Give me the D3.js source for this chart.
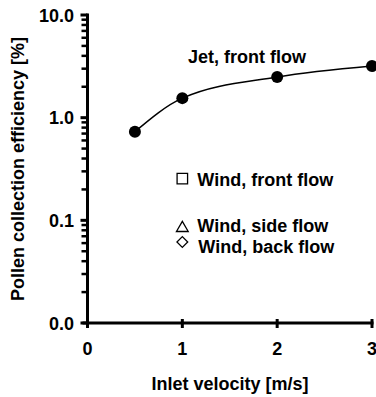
<!DOCTYPE html>
<html>
<head>
<meta charset="utf-8">
<script src="https://cdn.jsdelivr.net/npm/d3@7"></script>
<style>
  body { margin: 0; background: #fff; }
  svg text { font-family: "Liberation Sans", Arial, sans-serif; font-weight: bold; fill: #000; }
</style>
</head>
<body>
<div class="plot"></div>
<script>
// jet data (filled circles + fitted line)
var jetX = [0.5, 1, 2, 3];
var jetY = [0.73, 1.55, 2.49, 3.19];

// wind data, all at 1 m/s
var windNames = ["Wind, front flow", "Wind, side flow", "Wind, back flow"];
var windX = [1, 1, 1];
var windY = [0.255, 0.084, 0.0615];
var windShape = ["square", "triangle", "diamond"];

var xTicks = [0, 1, 2, 3];
var yTicks = [0.01, 0.1, 1, 10];
var yTickLabels = ["0.0", "0.1", "1.0", "10.0"];

var W = 376, H = 397;
var svg = d3.select(".plot").append("svg")
  .attr("width", W)
  .attr("height", H);

var x = d3.scaleLinear().domain([0, 3]).range([87.5, 372]);
var y = d3.scaleLog().domain([0.01, 10]).range([323, 15]);

// y axis
var yAxis = svg.append("g");
yAxis.append("line")
  .attr("x1", x(0)).attr("x2", x(0))
  .attr("y1", y(10) - 1.5).attr("y2", y(0.01) + 5)
  .attr("stroke", "#000").attr("stroke-width", 3);

var minor = [];
[0.01, 0.1, 1].forEach(function(d) {
  for (var k = 2; k <= 9; k++) minor.push(d * k);
});
yAxis.selectAll(".minor").data(minor).enter().append("line")
  .attr("x1", x(0) - 6).attr("x2", x(0))
  .attr("y1", function(d) { return y(d); })
  .attr("y2", function(d) { return y(d); })
  .attr("stroke", "#000").attr("stroke-width", 2.5);
yAxis.selectAll(".major").data(yTicks).enter().append("line")
  .attr("x1", x(0) - 7).attr("x2", x(0))
  .attr("y1", function(d) { return y(d); })
  .attr("y2", function(d) { return y(d); })
  .attr("stroke", "#000").attr("stroke-width", 3);
yAxis.selectAll("text").data(yTicks).enter().append("text")
  .attr("x", 74)
  .attr("y", function(d) { return y(d) + 6.5; })
  .attr("text-anchor", "end")
  .style("font-size", "18px")
  .text(function(d, i) { return yTickLabels[i]; });

// x axis
var xAxis = svg.append("g");
xAxis.append("line")
  .attr("x1", x(0) - 5).attr("x2", x(3) + 1.5)
  .attr("y1", y(0.01)).attr("y2", y(0.01))
  .attr("stroke", "#000").attr("stroke-width", 3);
xAxis.selectAll(".tk").data(xTicks).enter().append("line")
  .attr("x1", function(d) { return x(d); })
  .attr("x2", function(d) { return x(d); })
  .attr("y1", y(0.01) - 4).attr("y2", y(0.01) + 5)
  .attr("stroke", "#000").attr("stroke-width", 3);
xAxis.selectAll("text").data(xTicks).enter().append("text")
  .attr("x", function(d) { return x(d); })
  .attr("y", 355)
  .attr("text-anchor", "middle")
  .style("font-size", "18px")
  .text(function(d) { return d; });

// axis titles
svg.append("text")
  .attr("x", 230).attr("y", 390)
  .attr("text-anchor", "middle")
  .style("font-size", "18px")
  .text("Inlet velocity [m/s]");
svg.append("text")
  .attr("transform", "translate(24,169) rotate(-90)")
  .attr("text-anchor", "middle")
  .style("font-size", "18px")
  .text("Pollen collection efficiency [%]");

// jet curve
var jet = jetX.map(function(d, i) { return {x: d, y: jetY[i]}; });
var line = d3.line()
  .x(function(d) { return x(d.x); })
  .y(function(d) { return y(d.y); })
  .curve(d3.curveMonotoneX);
svg.append("path")
  .datum(jet)
  .attr("d", line)
  .attr("fill", "none")
  .attr("stroke", "#000")
  .attr("stroke-width", 1.5);
svg.selectAll(".jet").data(jet).enter().append("circle")
  .attr("cx", function(d) { return x(d.x); })
  .attr("cy", function(d) { return y(d.y); })
  .attr("r", 6)
  .attr("fill", "#000");
svg.append("text")
  .attr("x", 188).attr("y", 63)
  .style("font-size", "18px")
  .text("Jet, front flow");

// wind markers
var symbols = {
  square: d3.symbolSquare,
  triangle: d3.symbolTriangle,
  diamond: d3.symbolSquare   // rotated 45deg below
};
var symSize = { square: 110, triangle: 60, diamond: 58 };
var labelDy = [7.5, 4, 11];
var labelDx = [15, 15, 16];
windX.forEach(function(d, i) {
  var cx = x(d), cy = y(windY[i]);
  var rot = windShape[i] == "diamond" ? " rotate(45)" : "";
  svg.append("path")
    .attr("d", d3.symbol().type(symbols[windShape[i]]).size(symSize[windShape[i]]))
    .attr("transform", "translate(" + cx + "," + cy + ")" + rot)
    .attr("fill", "none")
    .attr("stroke", "#000")
    .attr("stroke-width", 1.3);
  svg.append("text")
    .attr("x", cx + labelDx[i])
    .attr("y", cy + labelDy[i])
    .style("font-size", "18px")
    .text(windNames[i]);
});
</script>
</body>
</html>
